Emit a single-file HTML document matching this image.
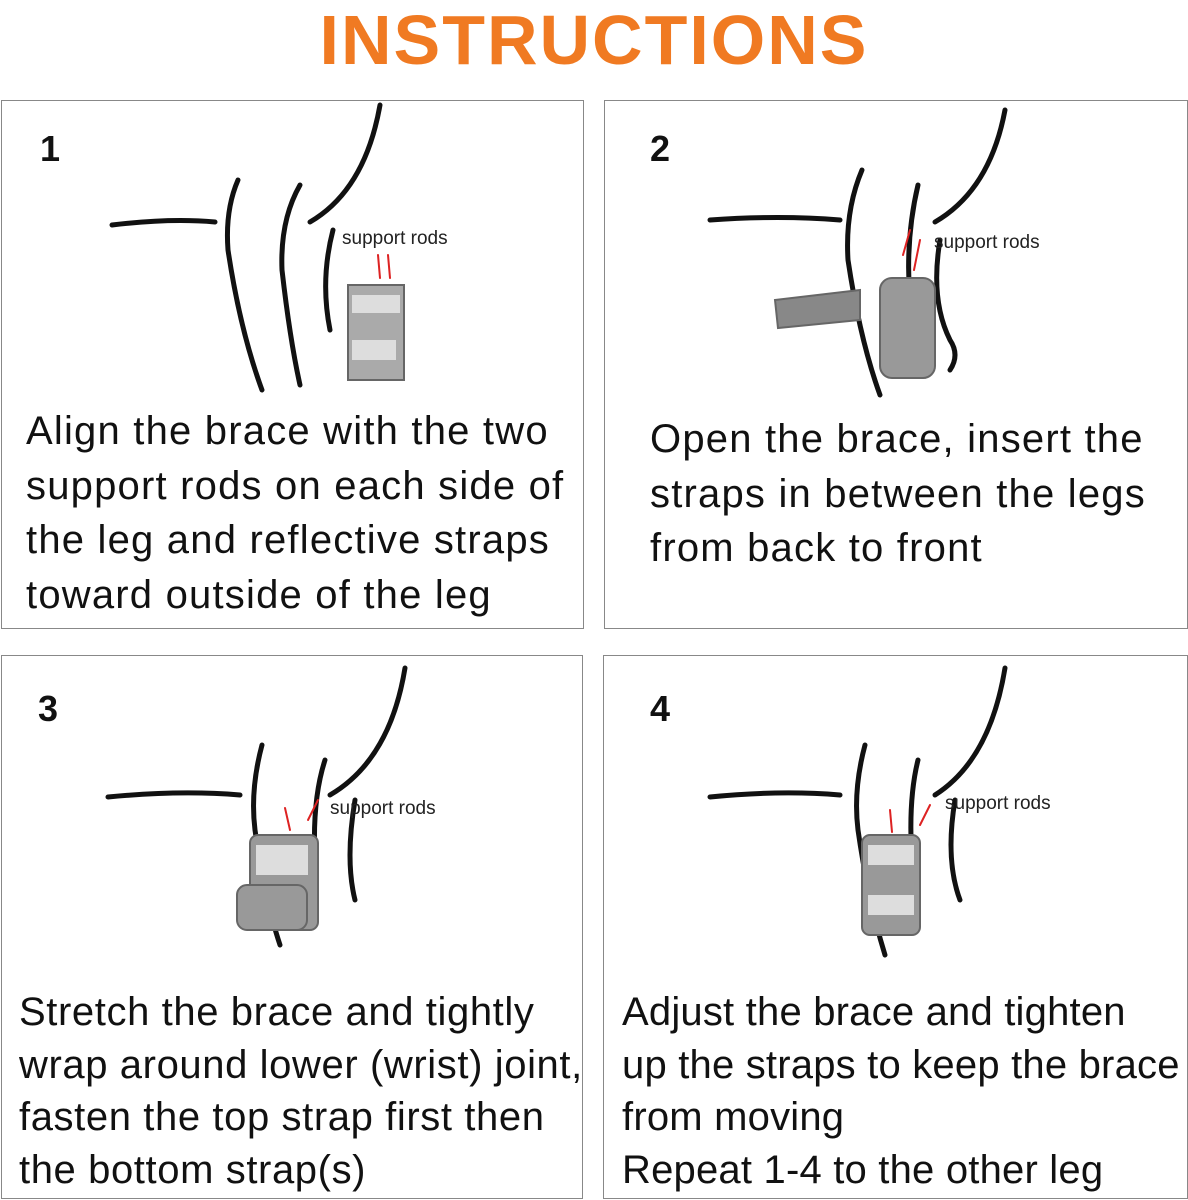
<!DOCTYPE html>
<html><head><meta charset="utf-8"><style>
body{margin:0;width:1188px;height:1200px;background:#fff;position:relative;overflow:hidden;font-family:"Liberation Sans",sans-serif}
.t{position:absolute;left:0;width:1188px;top:0;text-align:center;color:#f07a22;font-weight:bold;font-size:70px;letter-spacing:2px;line-height:80px}
.p{position:absolute;border:1.5px solid #888;box-sizing:border-box}
.n{position:absolute;font-weight:bold;font-size:36px;color:#111}
.tx{position:absolute;font-size:40px;letter-spacing:1.2px;color:#111;white-space:nowrap}
.b{letter-spacing:0.6px}
.c{letter-spacing:0.2px}
svg{position:absolute;left:0;top:0}
.lb{font-family:"Liberation Sans",sans-serif;font-size:19px;fill:#222}
</style></head><body>
<div class="t">INSTRUCTIONS</div>
<div class="p" style="left:1px;top:100px;width:583px;height:529px"></div>
<div class="p" style="left:604px;top:100px;width:584px;height:529px"></div>
<div class="p" style="left:1px;top:655px;width:582px;height:544px"></div>
<div class="p" style="left:603px;top:655px;width:585px;height:544px"></div>
<div class="n" style="left:40px;top:128px">1</div>
<div class="n" style="left:650px;top:128px">2</div>
<div class="n" style="left:38px;top:688px">3</div>
<div class="n" style="left:650px;top:688px">4</div>
<div class="tx" style="left:26px;top:404px;line-height:54.5px">Align the brace with the two<br>support rods on each side of<br>the leg and reflective straps<br>toward outside of the leg</div>
<div class="tx" style="left:650px;top:412px;line-height:54.5px">Open the brace, insert the<br>straps in between the legs<br>from back to front</div>
<div class="tx b" style="left:19px;top:986px;line-height:52.5px">Stretch the brace and tightly<br>wrap around lower (wrist) joint,<br>fasten the top strap first then<br>the bottom strap(s)</div>
<div class="tx c" style="left:622px;top:986px;line-height:52.5px">Adjust the brace and tighten<br>up the straps to keep the brace<br>from moving<br>Repeat 1-4 to the other leg</div>
<svg width="1188" height="1200" fill="none" stroke="#111" stroke-width="5" stroke-linecap="round">
<path d="M112 225 Q170 218 215 222"/>
<path d="M238 180 Q225 210 228 250 Q240 330 262 390"/>
<path d="M300 185 Q280 220 282 270 Q290 340 300 385"/>
<path d="M380 105 Q365 190 310 222"/>
<path d="M333 230 Q320 280 330 330"/>
<rect x="348" y="285" width="56" height="95" fill="#aaa" stroke="#666" stroke-width="2"/>
<rect x="352" y="295" width="48" height="18" fill="#ddd" stroke="none"/>
<rect x="352" y="340" width="44" height="20" fill="#ddd" stroke="none"/>
<path d="M378 255 L380 278 M388 255 L390 278" stroke="#d22" stroke-width="2"/>
<text class="lb" x="342" y="244" stroke="none">support rods</text>
<path d="M710 220 Q780 215 840 220"/>
<path d="M862 170 Q845 210 848 260 Q860 340 880 395"/>
<path d="M918 185 Q905 240 910 300"/>
<path d="M1005 110 Q990 190 935 222"/>
<path d="M940 240 Q930 300 950 340 Q960 355 950 370"/>
<path d="M775 300 L860 290 L860 320 L778 328 Z" fill="#888" stroke="#666" stroke-width="2"/>
<rect x="880" y="278" width="55" height="100" rx="12" fill="#999" stroke="#666" stroke-width="2"/>
<path d="M910 230 L903 255 M920 240 L914 270" stroke="#d22" stroke-width="2"/>
<text class="lb" x="934" y="248" stroke="none">support rods</text>
<path d="M108 797 Q180 790 240 795"/>
<path d="M262 745 Q250 790 255 830 Q265 900 280 945"/>
<path d="M325 760 Q312 800 315 860"/>
<path d="M405 668 Q390 760 330 795"/>
<path d="M355 800 Q345 860 355 900"/>
<rect x="250" y="835" width="68" height="95" rx="8" fill="#999" stroke="#666" stroke-width="2"/>
<rect x="237" y="885" width="70" height="45" rx="10" fill="#999" stroke="#666" stroke-width="2"/>
<rect x="256" y="845" width="52" height="30" fill="#ddd" stroke="none"/>
<path d="M285 808 L290 830 M318 800 L308 820" stroke="#d22" stroke-width="2"/>
<text class="lb" x="330" y="814" stroke="none">support rods</text>
<path d="M710 797 Q780 790 840 795"/>
<path d="M865 745 Q853 790 858 830 Q868 900 885 955"/>
<path d="M918 760 Q908 800 912 860"/>
<path d="M1005 668 Q990 760 935 795"/>
<path d="M955 800 Q945 860 960 900"/>
<rect x="862" y="835" width="58" height="100" rx="8" fill="#999" stroke="#666" stroke-width="2"/>
<rect x="868" y="845" width="46" height="20" fill="#ddd" stroke="none"/>
<rect x="868" y="895" width="46" height="20" fill="#ddd" stroke="none"/>
<path d="M890 810 L892 832 M930 805 L920 825" stroke="#d22" stroke-width="2"/>
<text class="lb" x="945" y="809" stroke="none">support rods</text>
</svg>
</body></html>
